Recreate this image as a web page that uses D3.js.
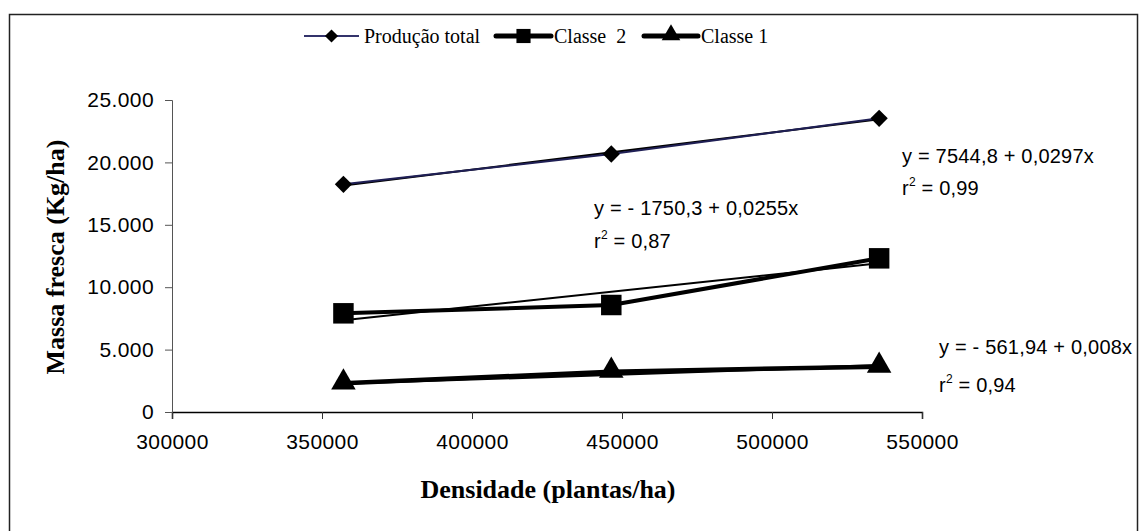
<!DOCTYPE html>
<html>
<head>
<meta charset="utf-8">
<script src="https://cdn.jsdelivr.net/npm/d3@7"></script>
<style>
  body { margin: 0; background: #fff; }
  .tick text { font-family: "Liberation Sans", Arial, sans-serif; font-size: 21px; letter-spacing: 0.4px; fill: #000; }
</style>
</head>
<body>
<div id="chart-area"></div>
<script>
// values
const density = [357143, 446429, 535714];
const producaoTotal = [18245, 20673, 23530];
const classe2 = [7907, 8574, 12313];
const classe1 = [2297, 3230, 3632];

const seriesNames = ["Produção total", "Classe  2", "Classe 1"];
const intercepts = [7544.8, -1750.3, -561.94];
const slopes = [0.0297, 0.0255, 0.008];
const eqLabels = ["y = 7544,8 + 0,0297x", "y = - 1750,3 + 0,0255x", "y = - 561,94 + 0,008x"];
const r2Labels = ["0,99", "0,87", "0,94"];

const xTicks = [300000, 350000, 400000, 450000, 500000, 550000];
const yTicks = [0, 5000, 10000, 15000, 20000, 25000];

const W = 1139, H = 531;
const margin = { top: 100, right: 217, bottom: 119, left: 172 };
const width = W - margin.left - margin.right;
const height = H - margin.top - margin.bottom;

const svg = d3.select("#chart-area")
  .append("svg")
    .attr("width", W)
    .attr("height", H);

// outer frame (bottom edge falls outside the picture)
svg.append("rect")
  .attr("x", 9.5)
  .attr("y", 14.5)
  .attr("width", 1128)
  .attr("height", 540)
  .attr("fill", "none")
  .attr("stroke", "#222")
  .attr("stroke-width", 1.5);

const g = svg.append("g")
  .attr("transform", `translate(${margin.left}, ${margin.top})`);

const x = d3.scaleLinear()
  .domain([300000, 550000])
  .range([0, width]);

const y = d3.scaleLinear()
  .domain([0, 25000])
  .range([height, 0]);

const xAxisGroup = g.append("g")
  .attr("transform", `translate(0, ${height})`)
  .call(d3.axisBottom(x).tickValues(xTicks).tickSize(7).tickPadding(15).tickFormat(d => d));

xAxisGroup.select(".domain").attr("stroke", "#000").attr("stroke-width", 1.5);
xAxisGroup.selectAll(".tick line").attr("stroke", "#333");

const yAxisGroup = g.append("g")
  .call(d3.axisLeft(y).tickValues(yTicks).tickSize(7).tickPadding(11)
    .tickFormat(d => d === 0 ? "0" : d3.format(",")(d).replace(",", ".")));

yAxisGroup.select(".domain").attr("stroke", "#555");
yAxisGroup.selectAll(".tick line").attr("stroke", "#555");

// axis titles
svg.append("text")
  .attr("x", 548)
  .attr("y", 498)
  .attr("text-anchor", "middle")
  .attr("font-family", "'Liberation Serif', 'Times New Roman', serif")
  .attr("font-weight", "bold")
  .attr("font-size", "26px")
  .text("Densidade (plantas/ha)");

svg.append("text")
  .attr("transform", "translate(64, 257) rotate(-90)")
  .attr("text-anchor", "middle")
  .attr("font-family", "'Liberation Serif', 'Times New Roman', serif")
  .attr("font-weight", "bold")
  .attr("font-size", "26px")
  .text("Massa fresca (Kg/ha)");

const line = d3.line()
  .x(d => x(d[0]))
  .y(d => y(d[1]));

const allSeries = [producaoTotal, classe2, classe1];
const dataWidths = [2, 4, 4.5];
const dataColors = ["#1f1f55", "#000", "#000"];
const trendWidths = [2, 2, 3];

// trend lines from the fitted equations
allSeries.forEach((s, i) => {
  const x0 = density[0], x1 = density[density.length - 1];
  g.append("path")
    .datum([[x0, intercepts[i] + slopes[i] * x0], [x1, intercepts[i] + slopes[i] * x1]])
    .attr("d", line)
    .attr("fill", "none")
    .attr("stroke", "#000")
    .attr("stroke-width", trendWidths[i]);
});

// data lines
allSeries.forEach((s, i) => {
  g.append("path")
    .datum(density.map((d, j) => [d, s[j]]))
    .attr("d", line)
    .attr("fill", "none")
    .attr("stroke", dataColors[i])
    .attr("stroke-width", dataWidths[i])
    .attr("stroke-linejoin", "round");
});

const symbols = [
  d3.symbol().type(d3.symbolDiamond2).size(190),
  d3.symbol().type(d3.symbolSquare).size(420),
  d3.symbol().type(d3.symbolTriangle).size(260)
];

allSeries.forEach((s, i) => {
  g.selectAll(`.mark-${i}`)
    .data(density.map((d, j) => [d, s[j]]))
    .enter()
    .append("path")
    .attr("class", `mark-${i}`)
    .attr("transform", d => `translate(${x(d[0])}, ${y(d[1]) + (i === 2 ? -1 : 0)})`)
    .attr("d", symbols[i])
    .attr("fill", "#000");
});

// equation labels
const eqPos = [[902, 163, 195], [594, 215, 248], [939, 354, 392]];
eqLabels.forEach((t, i) => {
  const p = eqPos[i];
  svg.append("text")
    .attr("x", p[0])
    .attr("y", p[1])
    .attr("font-family", "'Liberation Sans', Arial, sans-serif")
    .attr("font-size", "20px")
    .attr("letter-spacing", "0.2px")
    .text(t);
  const r = svg.append("text")
    .attr("x", p[0])
    .attr("y", p[2])
    .attr("font-family", "'Liberation Sans', Arial, sans-serif")
    .attr("font-size", "20px")
    .attr("letter-spacing", "0.2px");
  r.append("tspan").text("r");
  r.append("tspan").attr("dy", -9).attr("font-size", "12px").text("2");
  r.append("tspan").attr("dy", 9).text(" = " + r2Labels[i]);
});

// legend
const legendItems = [
  { x1: 304, x2: 359, tx: 364 },
  { x1: 496, x2: 551, tx: 554 },
  { x1: 644, x2: 698, tx: 701 }
];
const legendY = 36;
const legendLineColors = ["#33336b", "#000", "#000"];
const legendLineWidths = [2, 5, 5];

legendItems.forEach((it, i) => {
  svg.append("line")
    .attr("x1", it.x1)
    .attr("x2", it.x2)
    .attr("y1", legendY)
    .attr("y2", legendY)
    .attr("stroke", legendLineColors[i])
    .attr("stroke-width", legendLineWidths[i])
    .attr("stroke-linecap", i === 0 ? "butt" : "round");
  svg.append("path")
    .attr("transform", `translate(${(it.x1 + it.x2) / 2}, ${legendY + (i === 2 ? -1 : 0)})`)
    .attr("d", i === 1 ? d3.symbol().type(d3.symbolSquare).size(200)() : i === 0 ? d3.symbol().type(d3.symbolDiamond2).size(110)() : d3.symbol().type(d3.symbolTriangle).size(150)())
    .attr("fill", "#000");
  svg.append("text")
    .attr("x", it.tx)
    .attr("y", legendY + 7)
    .attr("font-family", "'Liberation Serif', 'Times New Roman', serif")
    .attr("font-size", "20px")
    .style("white-space", "pre")
    .text(seriesNames[i]);
});
</script>
</body>
</html>
